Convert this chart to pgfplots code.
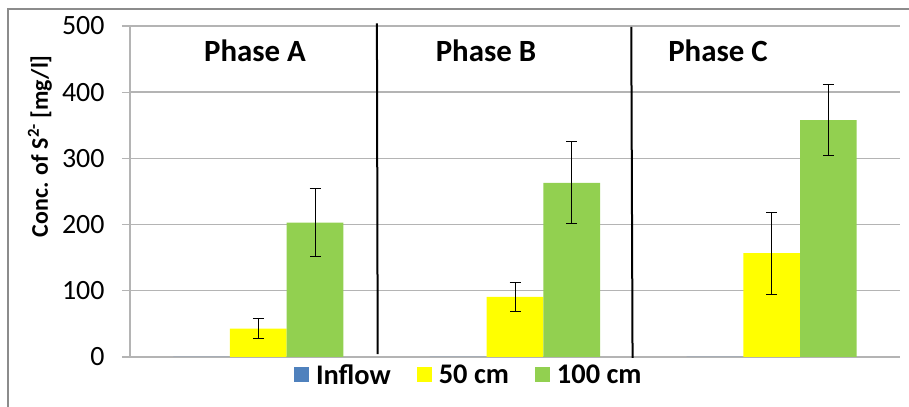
\documentclass[border=0pt]{standalone}
\usepackage{pgfplots}
\pgfplotsset{compat=1.18}
\usepackage{fontspec}
\setmainfont{Carlito}
\definecolor{inflowc}{RGB}{79,129,189}
\definecolor{yelc}{RGB}{255,255,0}
\definecolor{grnc}{RGB}{146,208,80}
\definecolor{gridc}{RGB}{180,180,180}
\definecolor{framec}{RGB}{140,140,140}
\begin{document}
\begin{tikzpicture}
\useasboundingbox (0,0) rectangle (909bp,407bp);
\draw[framec, line width=1.5bp] (8bp,-20bp) -- (8bp,398bp) -- (930bp,398bp);
\begin{axis}[
  at={(130bp,50bp)}, anchor=south west,
  scale only axis, width=770bp, height=331bp,
  ybar=0pt, bar width=56.7bp,
  xmin=-0.5, xmax=2.5, ymin=0, ymax=500,
  xtick=\empty,
  ytick={0,100,...,500},
  ymajorgrids, grid style={gridc, line width=1.4bp},
  axis x line*=bottom, axis y line*=left,
  axis line style={gridc, line width=1.4bp, -},
  y axis line style={gridc},
  tick style={gridc, line width=1.2bp},
  major tick length=8bp, tick align=outside,
  /pgf/number format/assume math mode=true,
  yticklabel style={font=\fontsize{28}{30}\selectfont, xshift=-14bp},
  ylabel={\textbf{Conc. of S\textsuperscript{2-} [mg/l]}},
  every axis y label/.style={at={(axis description cs:-0.117,0.637)}, rotate=90, anchor=center, font=\fontsize{24}{26}\selectfont},
  clip=false,
  legend columns=3,
  legend style={at={(axis description cs:0.44,-0.054)}, anchor=center, draw=none, fill=none,
    font=\fontsize{28.5}{30}\selectfont\bfseries,
    /tikz/every even column/.append style={column sep=24bp},
    /tikz/every odd column/.append style={column sep=5bp},
    nodes={inner sep=2bp}},
  legend image code/.code={\fill[#1] (0bp,-7.5bp) rectangle (15bp,7.5bp);},
  error bars/y dir=both, error bars/y explicit,
  error bars/error mark options={rotate=90, mark size=5.5bp, line width=1bp, black},
  error bars/error bar style={line width=1bp, black},
]
\addplot[fill=inflowc, draw=none, error bars/y dir=none] coordinates {(0,0) (1,0) (2,0)};
\addlegendentry{Inflow}
\addplot[fill=yelc, draw=none] coordinates {(0,43) +- (0,15) (1,91) +- (0,22) (2,157) +- (0,62)};
\addlegendentry{50 cm}
\addplot[fill=grnc, draw=none] coordinates {(0,203) +- (0,51) (1,263) +- (0,62) (2,358) +- (0,54)};
\addlegendentry{100 cm}
\draw[black, line width=2bp] (axis cs:0.462,504) -- (axis cs:0.465,4.5);
\draw[black, line width=2bp] (axis cs:1.453,498.5) -- (axis cs:1.458,-1.5);
\node[font=\fontsize{31}{33}\selectfont\bfseries] at (axis cs:-0.013,462) {Phase A};
\node[font=\fontsize{31}{33}\selectfont\bfseries] at (axis cs:0.887,462) {Phase B};
\node[font=\fontsize{31}{33}\selectfont\bfseries] at (axis cs:1.791,462) {Phase C};
\end{axis}
\end{tikzpicture}
\end{document}
